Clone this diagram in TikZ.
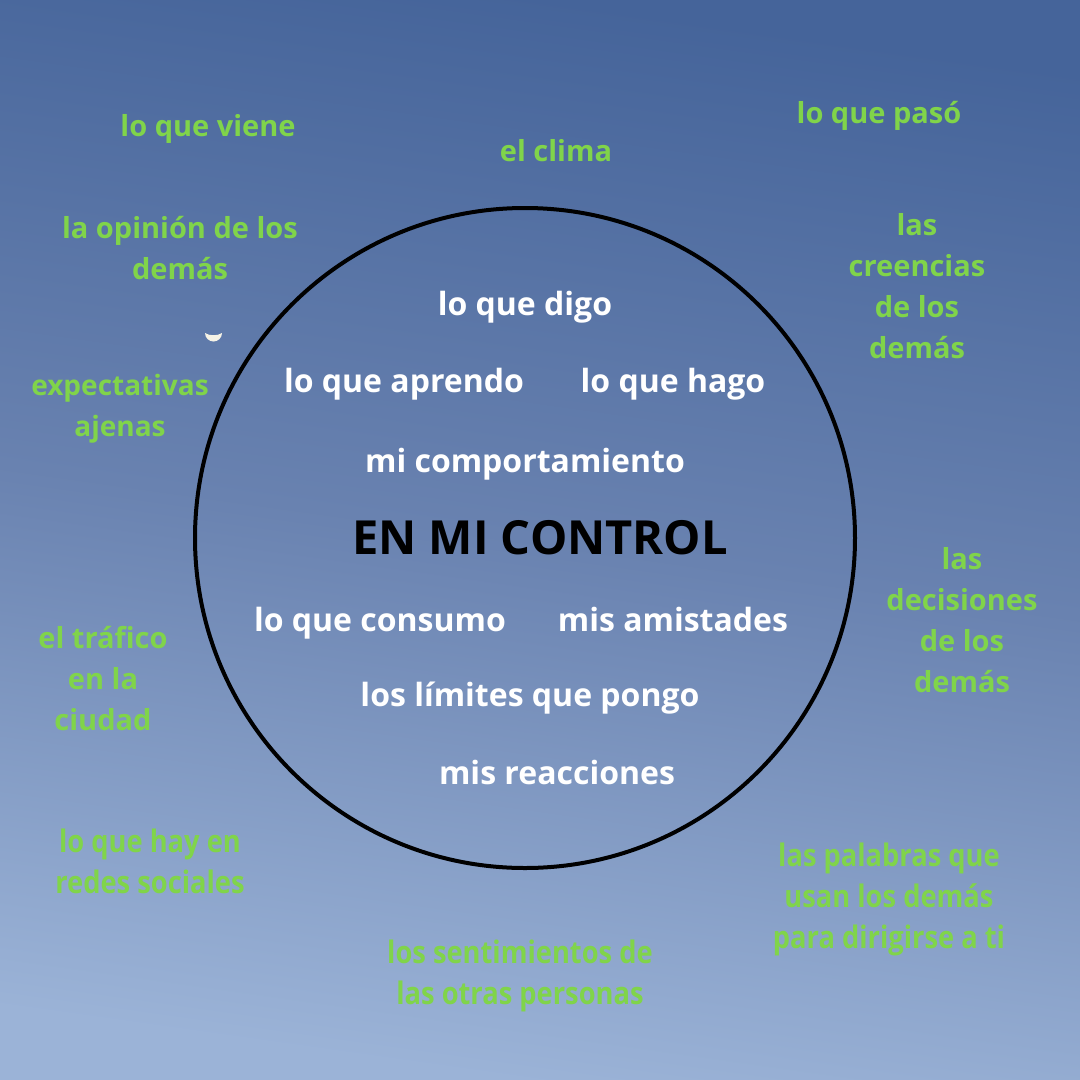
\documentclass[tikz,border=0pt]{standalone}
\usepackage{fontspec}
\setmainfont{Open Sans}
\newfontfamily\condensed[FakeStretch=0.88]{Open Sans}
\usetikzlibrary{positioning}
\definecolor{skytop}{HTML}{45649A}
\definecolor{skymid}{HTML}{6982B0}
\definecolor{skylow}{HTML}{9BB3D7}
\definecolor{limegreen}{HTML}{80D44A}
\definecolor{moonwhite}{HTML}{F6F3E6}

\begin{document}
\begin{tikzpicture}[
  x=1pt, y=-1pt,
  outside/.style={
    text=limegreen, align=center, inner sep=0pt,
    font=\fontsize{29}{41}\selectfont\bfseries
  },
  outsidecond/.style={outside, font=\condensed\fontsize{31}{41}\selectfont\bfseries},
  inside/.style={text=white, inner sep=0pt, anchor=base,
    font=\fontsize{32}{38}\selectfont\bfseries},
]

% Background
\shade[top color=skytop, bottom color=skylow, middle color=skymid, shading angle=-8]
  (0,0) rectangle (1080,1080);
\useasboundingbox (0,0) rectangle (1080,1080);

% Moon
\fill[moonwhite] (205,333) arc[start angle=180, end angle=0, x radius=8.5, y radius=8.5]
  .. controls (218,336) and (209,336) .. (205,333);

% Circle
\node[circle, draw=black, line width=4pt, minimum size=660pt, inner sep=0pt]
  (control) at (525,538) {};

% =============================================
% Inside the circle
% =============================================
\node[text=black, inner sep=0pt, font=\fontsize{47}{52}\selectfont\bfseries]
  (title) at (540,538) {EN MI CONTROL};

\node[inside] (digo) at (525,315) {lo que digo};
\node[inside] (aprendo) at (404,392) {lo que aprendo};
\node[inside] (hago) at (673,392) {lo que hago};
\node[inside] (comportamiento) at (525,472) {mi comportamiento};
\node[inside] (consumo) at (380,631) {lo que consumo};
\node[inside] (amistades) at (673,631) {mis amistades};
\node[inside] (limites) at (530,706) {los límites que pongo};
\node[inside] (reacciones) at (557,784) {mis reacciones};

% =============================================
% Outside the circle
% =============================================
\node[outside] (viene) at (208,129) {lo que viene};
\node[outside] (clima) at (556,151) {el clima};
\node[outside] (paso) at (879,116) {lo que pasó};
\node[outside] (opinion) at (180,248) {la opinión de los\\demás};
\node[outside] (creencias) at (917,286) {las\\creencias\\de los\\demás};
\node[outside, font=\fontsize{28}{41}\selectfont\bfseries]
  (expectativas) at (120,409) {expectativas\\ajenas};
\node[outside] (trafico) at (103,679) {el tráfico\\en la\\ciudad};
\node[outside] (decisiones) at (962,620) {las\\decisiones\\de los\\demás};
\node[outsidecond] (redes) at (150,861) {lo que hay en\\redes sociales};
\node[outsidecond] (sentimientos) at (520,976) {los sentimientos de\\las otras personas};
\node[outsidecond] (palabras) at (889,899) {las palabras que\\usan los demás\\para dirigirse a ti};

\end{tikzpicture}
\end{document}
